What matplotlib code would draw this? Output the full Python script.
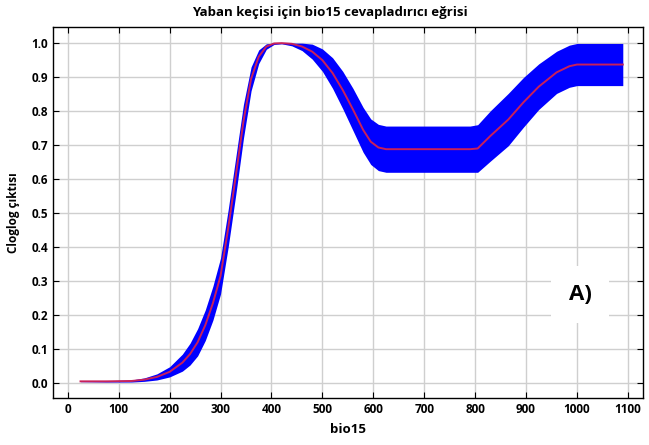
import numpy as np
import matplotlib
matplotlib.use("Agg")
import matplotlib.pyplot as plt

# response curve values (mean and spread)
bio15 = [25, 75, 125, 150, 175, 200, 225, 240, 255, 270, 285, 300, 315,
         330, 345, 360, 375, 390, 405, 420, 440, 460, 480, 500, 520, 540,
         560, 580, 595, 610, 625, 700, 790, 805, 830, 865, 895, 925, 960,
         985, 1000, 1090]
mean_resp = [0.005, 0.005, 0.006, 0.010, 0.018, 0.033, 0.060, 0.085, 0.120,
             0.170, 0.235, 0.315, 0.455, 0.610, 0.770, 0.895, 0.960, 0.990,
             0.999, 1.000, 0.998, 0.990, 0.975, 0.950, 0.912, 0.862, 0.805,
             0.745, 0.710, 0.693, 0.688, 0.688, 0.688, 0.690, 0.727, 0.775,
             0.826, 0.872, 0.914, 0.932, 0.937, 0.937]
std_resp = [0.001, 0.002, 0.003, 0.005, 0.009, 0.015, 0.025, 0.032, 0.040,
            0.045, 0.050, 0.053, 0.055, 0.055, 0.050, 0.035, 0.020, 0.008,
            0.003, 0.002, 0.006, 0.012, 0.022, 0.033, 0.045, 0.055, 0.062,
            0.066, 0.067, 0.068, 0.068, 0.068, 0.068, 0.070, 0.074, 0.077,
            0.073, 0.067, 0.062, 0.062, 0.062, 0.062]

x_ticks = list(range(0, 1101, 100))
y_ticks = [0.0, 0.1, 0.2, 0.3, 0.4, 0.5, 0.6, 0.7, 0.8, 0.9, 1.0]

plt.rcParams['font.family'] = ['Open Sans', 'DejaVu Sans']

x = np.array(bio15)
m = np.array(mean_resp)
s = np.array(std_resp)
upper = np.minimum(m + s, 1.0)
lower = np.maximum(m - s, 0.0)

fig = plt.figure(figsize=(6.49, 4.45), dpi=100)
ax = fig.add_axes([0.0817, 0.1056, 0.9093, 0.8334])

ax.fill_between(x, lower, upper, color='#0000FF', lw=0, zorder=2)
ax.plot(x, m, color='#C8205A', lw=1.4, zorder=3)

ax.set_xlim(-29, 1130)
ax.set_ylim(-0.044, 1.047)
ax.set_xticks(x_ticks)
ax.set_yticks(y_ticks)
ax.set_xticklabels([str(t) for t in x_ticks], fontweight='bold', fontsize=8.5)
ax.set_yticklabels([f"{t:.1f}" for t in y_ticks], fontweight='bold', fontsize=8.5)
ax.tick_params(direction='in', length=4, top=True, right=True, width=0.8)
ax.grid(True, color='#cfcfcf', lw=1.0, zorder=0)
ax.set_axisbelow(True)
for sp in ax.spines.values():
    sp.set_linewidth(1.0)

fig.suptitle('Yaban keçisi için bio15 cevapladırıcı eğrisi', x=0.508, y=0.973,
             va='center', fontsize=9.5, fontweight='bold')
ax.set_xlabel('bio15', fontsize=9.5, fontweight='bold', labelpad=5)
ax.set_ylabel('Cloglog çıktısı', fontsize=8.5, fontweight='bold', labelpad=8)

ax.text(1006, 0.26, 'A)', fontsize=16, fontweight='bold', ha='center',
        va='center', zorder=4,
        bbox=dict(facecolor='white', edgecolor='none', pad=13))

fig.savefig('out.png', dpi=100)
